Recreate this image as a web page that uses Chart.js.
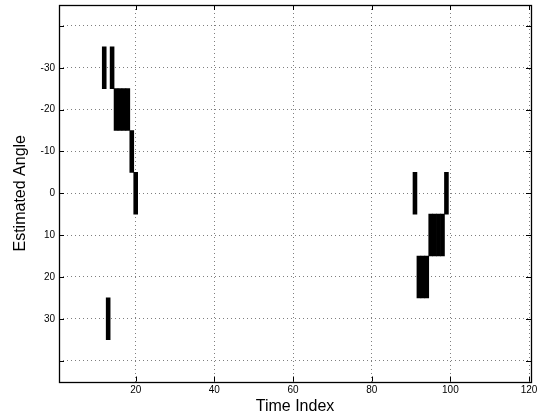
<!DOCTYPE html>
<html>
    <head>
        <title>Estimated Angle</title>
        <style>
            body { margin: 0; background: #fff; }
        </style>
    </head>
    <body>
        <canvas id="angleCanvas" width="543" height="419"></canvas>

        <script src="https://cdn.jsdelivr.net/npm/chart.js@4/dist/chart.umd.min.js"></script>
        <script>
        // one entry per filled cell: time index and the centre of its 10 degree angle bin
        var timeIndex = [12, 14, 13, 15, 16, 17, 18, 19, 20, 91, 99, 92, 93, 94, 95, 96, 97, 98];
        var angleDeg = [-30, -30, 30, -20, -20, -20, -20, -10, 0, 0, 0, 20, 20, 20, 10, 10, 10, 10];
        var binWidth = 10;

        var xTicks = [20, 40, 60, 80, 100, 120];
        var yTicks = [-40, -30, -20, -10, 0, 10, 20, 30, 40];
        var yLabeled = [-30, -20, -10, 0, 10, 20, 30];

        var cells = timeIndex.map(function(t, i) {
            return {x: t, y: [angleDeg[i] - binWidth / 2, angleDeg[i] + binWidth / 2]};
        });

        // box round the plot plus small inward tick marks, matlab style
        var boxPlugin = {
            id: 'box',
            afterDraw: function(chart) {
                var ctx = chart.ctx, a = chart.chartArea;
                var xs = chart.scales.x, ys = chart.scales.y;
                ctx.save();
                ctx.strokeStyle = '#000';
                ctx.lineWidth = 1;
                ctx.beginPath();
                xTicks.forEach(function(v) {
                    var px = Math.round(xs.getPixelForValue(v)) + 0.5;
                    ctx.moveTo(px, a.bottom); ctx.lineTo(px, a.bottom - 5);
                    ctx.moveTo(px, a.top); ctx.lineTo(px, a.top + 5);
                });
                yTicks.forEach(function(v) {
                    var py = Math.round(ys.getPixelForValue(v)) + 0.5;
                    ctx.moveTo(a.left, py); ctx.lineTo(a.left + 5, py);
                    ctx.moveTo(a.right, py); ctx.lineTo(a.right - 5, py);
                });
                ctx.stroke();
                ctx.lineWidth = 1.3;
                ctx.strokeRect(Math.round(a.left) + 0.5, Math.round(a.top) + 0.5,
                    Math.round(a.right - a.left), Math.round(a.bottom - a.top));
                ctx.restore();
            }
        };

        var font = 'Liberation Sans, Arial, Helvetica, sans-serif';
        Chart.defaults.font.family = font;
        Chart.defaults.color = '#000';

        new Chart(document.getElementById('angleCanvas').getContext('2d'), {
            type: 'bar',
            data: {
                datasets: [{
                    data: cells,
                    backgroundColor: '#000',
                    borderWidth: 0,
                    categoryPercentage: 1,
                    barPercentage: 1
                }]
            },
            options: {
                responsive: false,
                animation: false,
                events: [],
                layout: {padding: {top: 5, right: 12, left: 0, bottom: 0}},
                plugins: {legend: {display: false}, tooltip: {enabled: false}},
                scales: {
                    x: {
                        type: 'linear',
                        min: 0.5,
                        max: 120.5,
                        offset: false,
                        afterBuildTicks: function(s) { s.ticks = xTicks.map(function(v) { return {value: v}; }); },
                        afterFit: function(s) { s.height = 37.5; s.paddingLeft = 0; s.paddingRight = 0; },
                        ticks: {font: {size: 10}, padding: 3, maxRotation: 0},
                        grid: {drawTicks: false, offset: false, color: 'rgba(0,0,0,0.5)'},
                        border: {display: false, dash: [1, 3]},
                        title: {display: true, text: 'Time Index', font: {size: 16}, padding: {top: 0, bottom: 3}}
                    },
                    y: {
                        type: 'linear',
                        reverse: true,
                        min: -45,
                        max: 45,
                        afterBuildTicks: function(s) { s.ticks = yTicks.map(function(v) { return {value: v}; }); },
                        afterFit: function(s) { s.width = 59; s.paddingTop = 0; s.paddingBottom = 0; },
                        ticks: {
                            font: {size: 10},
                            padding: 4,
                            callback: function(v) { return yLabeled.indexOf(v) >= 0 ? String(v) : ''; }
                        },
                        grid: {drawTicks: false, color: 'rgba(0,0,0,0.5)'},
                        border: {display: false, dash: [1, 3]},
                        title: {display: true, text: 'Estimated Angle', font: {size: 16}, padding: {top: 11, bottom: 0}}
                    }
                }
            },
            plugins: [boxPlugin]
        });
        </script>
    </body>
</html>
